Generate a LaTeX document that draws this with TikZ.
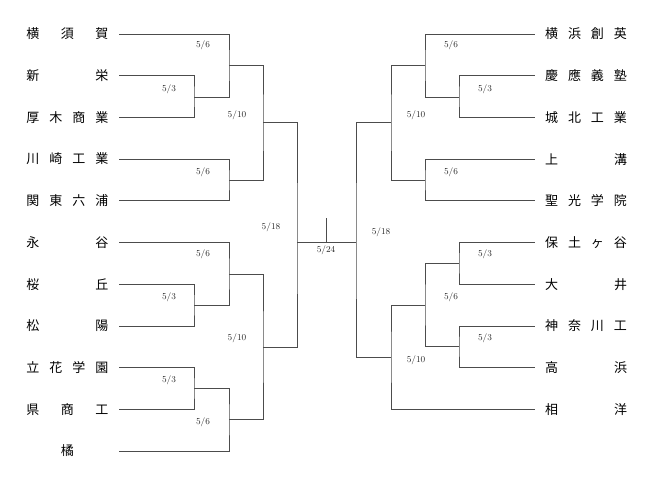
\documentclass[tikz,border=0pt]{standalone}
\usepackage{fontspec}
\newfontfamily\jp{Noto Sans CJK JP}
\usepackage{tikz}

\tikzset{
    team/.style={inner sep=0pt, outer xsep=10.5pt, font=\jp\fontsize{13}{13}\selectfont},
    date/.style={font=\fontsize{9}{9}\selectfont, text=black!85},
}
\newcommand{\spread}[1]{\makebox[82pt][s]{#1}}

\begin{document}
\begin{tikzpicture}[x=1pt,y=-1pt]
        \useasboundingbox (0,0) rectangle (654,485);
        \tikzset{every path/.style={draw=black!70, line width=0.8pt}}
        % left side
        \foreach \t [count=\i] in {{横\hfill 須\hfill 賀},{新\hfill 栄},{厚\hfill 木\hfill 商\hfill 業},
            {川\hfill 崎\hfill 工\hfill 業},{関\hfill 東\hfill 六\hfill 浦},{永\hfill 谷},{桜\hfill 丘},
            {松\hfill 陽},{立\hfill 花\hfill 学\hfill 園},{県\hfill 商\hfill 工},{\hfill 橘\hfill}} {
            \node [team] (l\i) at (67.5,{34+41.7*(\i-1)}) {\spread{\t}};
        }
        % right side
        \foreach \t [count=\i] in {{横\hfill 浜\hfill 創\hfill 英},{慶\hfill 應\hfill 義\hfill 塾},
            {城\hfill 北\hfill 工\hfill 業},{上\hfill 溝},{聖\hfill 光\hfill 学\hfill 院},
            {保\hfill 土\hfill ヶ\hfill 谷},{大\hfill 井},{神\hfill 奈\hfill 川\hfill 工},{高\hfill 浜},
            {相\hfill 洋}} {
            \node [team] (r\i) at (586,{34+41.7*(\i-1)}) {\spread{\t}};
        }
        % junctions, left
        \coordinate (m1) at (194,97);
        \coordinate (m2) at (229,65);
        \coordinate (m3) at (229,180.5);
        \coordinate (m4) at (263,122.5);
        \coordinate (m5) at (194,305);
        \coordinate (m6) at (229,274);
        \coordinate (m7) at (194,388.5);
        \coordinate (m8) at (229,419.5);
        \coordinate (m9) at (263,347);
        \coordinate (m10) at (297,242);
        % junctions, right
        \coordinate (n1) at (459,97);
        \coordinate (n2) at (425,65);
        \coordinate (n3) at (425,180.5);
        \coordinate (n4) at (391,122.5);
        \coordinate (n5) at (459,263);
        \coordinate (n6) at (459,346.5);
        \coordinate (n7) at (425,305);
        \coordinate (n8) at (391,357);
        \coordinate (n9) at (356,242);
        \coordinate (top) at (326,218);
        \coordinate (mid) at (326,242);
        % brackets, left
        \draw (l2.east) -| (m1) |- (l3.east);
        \draw (l1.east) -| (m2) |- (m1);
        \draw (l4.east) -| (m3) |- (l5.east);
        \draw (m2) -| (m4) |- (m3);
        \draw (l7.east) -| (m5) |- (l8.east);
        \draw (l6.east) -| (m6) |- (m5);
        \draw (l9.east) -| (m7) |- (l10.east);
        \draw (m7) -| (m8) |- (l11.east);
        \draw (m6) -| (m9) |- (m8);
        \draw (m4) -| (m10) |- (m9);
        % brackets, right
        \draw (r2.west) -| (n1) |- (r3.west);
        \draw (r1.west) -| (n2) |- (n1);
        \draw (r4.west) -| (n3) |- (r5.west);
        \draw (n2) -| (n4) |- (n3);
        \draw (r6.west) -| (n5) |- (r7.west);
        \draw (r8.west) -| (n6) |- (r9.west);
        \draw (n5) -| (n7) |- (n6);
        \draw (n7) -| (n8) |- (r10.west);
        \draw (n4) -| (n9) |- (n8);
        % final
        \draw (m10) -- (n9);
        \draw (top) -- (mid);
        % dates
        \foreach \x/\y/\d in {203/45/5\slash6, 169/89/5\slash3, 237/115/5\slash10, 203/172/5\slash6,
            271/227/5\slash18, 203/254/5\slash6, 169/297/5\slash3, 237/338/5\slash10, 169/380/5\slash3,
            203/422/5\slash6, 326/250/5\slash24, 451/45/5\slash6, 485/89/5\slash3, 416/115/5\slash10,
            451/172/5\slash6, 381/232/5\slash18, 485/254/5\slash3, 451/297/5\slash6, 485/338/5\slash3,
            416/360/5\slash10} {
            \node [date, draw=none] at (\x,\y) {\d};
        }
\end{tikzpicture}
\end{document}
